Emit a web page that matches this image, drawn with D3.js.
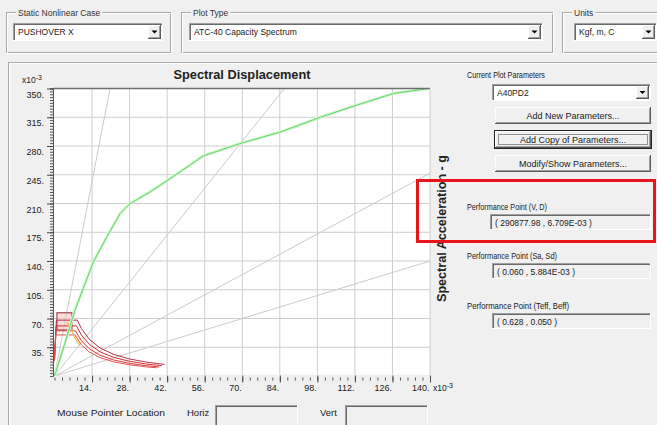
<!DOCTYPE html>
<html>
<head>
<meta charset="utf-8">
<script src="https://cdn.jsdelivr.net/npm/d3@7"></script>
<style>
  html, body { margin: 0; padding: 0; background: #f0f0f0; }
  svg { display: block; font-family: "Liberation Sans", Arial, sans-serif; }
</style>
</head>
<body>
<script>
// axis ticks, both in x10^-3
const sdTicks = [14, 28, 42, 56, 70, 84, 98, 112, 126, 140];
const saTicks = [35, 70, 105, 140, 175, 210, 245, 280, 315, 350];

// capacity curve (Sd, Sa) x10^-3
const capSd = [0, 3.7, 7.6, 14.5, 19.6, 24.5, 28.2, 35.6, 44.3, 55.5, 69.2, 84.2, 99.1, 112.9, 126.4, 139.5];
const capSa = [0, 38, 80, 139, 170, 198, 210, 224, 243, 268, 283, 297, 315, 330, 344, 350];

// demand spectra, 5 / 10 / 15 / 20 % damping
const dem05Sd = [0, 0.7, 8.5, 10, 13, 17, 22, 28, 34, 41];
const dem05Sa = [24, 68, 68, 58, 44.6, 34.1, 26.4, 20.7, 17.1, 14.1];
const dem10Sd = [0, 0.6, 8.2, 10, 13, 17, 22, 28, 34, 40];
const dem10Sa = [22, 61, 61, 50, 38.5, 29.4, 22.7, 17.9, 14.7, 12.5];
const dem15Sd = [0, 0.6, 7.8, 10, 13, 17, 22, 28, 34, 39];
const dem15Sa = [20, 55, 55, 43, 33.1, 25.3, 19.5, 15.4, 12.6, 11];
const dem20Sd = [0, 0.5, 7.6, 10, 13, 17, 22, 28, 34, 38];
const dem20Sa = [18, 50, 50, 38, 29.2, 22.4, 17.3, 13.6, 11.2, 10];

// single demand spectrum (variable damping)
const singleSd = [4.6, 5.9, 7.5, 9.5];
const singleSa = [66, 60, 47, 37];

// constant period lines, end point on the plot edge
const periodT = [0.5, 1.0, 1.5, 2.0];
const periodEndSd = [20.7, 85.7, 140, 140];
const periodEndSa = [350, 350, 247, 140];

// box around the performance point
const boxSd = [0.9, 6.5];
const boxSa = [56, 77];

// right panel
const paramButtons = ['Add New Parameters...', 'Add Copy of Parameters...', 'Modify/Show Parameters...'];
const perfLabels = ['Performance Point (V, D)', 'Performance Point (Sa, Sd)', 'Performance Point (Teff, Beff)'];
const perfValues = ['( 290877.98 , 6.709E-03 )', '( 0.060 , 5.884E-03 )', '( 0.628 , 0.050 )'];

const W = 657, H = 425;
const svg = d3.select('body').append('svg').attr('width', W).attr('height', H);
svg.append('rect').attr('width', W).attr('height', H).attr('fill', '#f0f0f0');

function txt(g, x, y, s, o = {}) {
  const t = g.append('text').attr('x', x).attr('y', y).text(s)
    .attr('font-size', o.size || 8.5).attr('fill', o.fill || '#1a1a1a');
  if (o.anchor) t.attr('text-anchor', o.anchor);
  if (o.bold) t.attr('font-weight', 'bold');
  if (o.len) t.attr('textLength', o.len).attr('lengthAdjust', 'spacingAndGlyphs');
  return t;
}

function hline(x1, x2, yy, c) {
  svg.append('line').attr('x1', x1).attr('x2', x2).attr('y1', yy).attr('y2', yy).attr('stroke', c);
}
function vline(xx, y1, y2, c) {
  svg.append('line').attr('x1', xx).attr('x2', xx).attr('y1', y1).attr('y2', y2).attr('stroke', c);
}

// etched group frame with caption
function groupBox(x, y, w, h, label) {
  svg.append('rect').attr('x', x + 0.5).attr('y', y + 0.5).attr('width', w).attr('height', h)
    .attr('fill', 'none').attr('stroke', '#a9a9a9');
  svg.append('rect').attr('x', x + 1.5).attr('y', y + 1.5).attr('width', w).attr('height', h)
    .attr('fill', 'none').attr('stroke', '#ffffff');
  const t = txt(svg, x + 12, y + 4, label, { size: 8.5, fill: '#333' });
  const tw = t.node().getComputedTextLength();
  svg.insert('rect', () => t.node()).attr('x', x + 10).attr('y', y - 4).attr('width', tw + 4).attr('height', 9)
    .attr('fill', '#f0f0f0');
}

function sunken(x, y, w, h, fill) {
  svg.append('rect').attr('x', x).attr('y', y).attr('width', w).attr('height', h).attr('fill', fill);
  hline(x, x + w, y + 0.5, '#a0a0a0');
  vline(x + 0.5, y, y + h, '#a0a0a0');
  hline(x + 1, x + w - 1, y + 1.5, '#696969');
  vline(x + 1.5, y + 1, y + h - 1, '#696969');
  hline(x, x + w, y + h - 0.5, '#ffffff');
  vline(x + w - 0.5, y, y + h, '#ffffff');
}

function raised(x, y, w, h) {
  svg.append('rect').attr('x', x).attr('y', y).attr('width', w).attr('height', h).attr('fill', '#f0f0f0');
  hline(x, x + w, y + 0.5, '#ffffff');
  vline(x + 0.5, y, y + h, '#ffffff');
  hline(x, x + w, y + h - 0.5, '#5a5a5a');
  vline(x + w - 0.5, y, y + h, '#5a5a5a');
  hline(x + 1, x + w - 1, y + h - 1.5, '#a0a0a0');
  vline(x + w - 1.5, y + 1, y + h - 1, '#a0a0a0');
}

function combo(x, y, w, h, label) {
  sunken(x, y, w, h, '#ffffff');
  const bx = x + w - 15;
  raised(bx, y + 2, 13, h - 4);
  const cx = bx + 6.5, cy = y + h / 2;
  svg.append('path').attr('d', `M${cx - 3},${cy - 1.5}L${cx + 3},${cy - 1.5}L${cx},${cy + 1.5}Z`).attr('fill', '#000');
  txt(svg, x + 5, y + h / 2 + 3, label, { size: 8.5 });
}

function button(x, y, w, h, label, focus) {
  raised(x, y, w, h);
  if (focus) {
    svg.append('rect').attr('x', x - 0.5).attr('y', y - 0.5).attr('width', w + 1).attr('height', h + 1)
      .attr('fill', 'none').attr('stroke', '#222');
    svg.append('rect').attr('x', x + 3.5).attr('y', y + 3.5).attr('width', w - 7).attr('height', h - 7)
      .attr('fill', 'none').attr('stroke', '#333').attr('stroke-dasharray', '1,1');
  }
  txt(svg, x + w / 2, y + h / 2 + 3.2, label, { size: 9, anchor: 'middle' });
}

// ---- top selectors
groupBox(6, 12, 164, 40, 'Static Nonlinear Case');
combo(13, 23, 150, 18, 'PUSHOVER X');
groupBox(181, 12, 371, 40, 'Plot Type');
combo(189, 23, 354, 18, 'ATC-40 Capacity Spectrum');
groupBox(562, 12, 100, 40, 'Units');
combo(574, 23, 83, 18, 'Kgf, m, C');

// ---- plot panel frame
hline(8, W, 62.5, '#a9a9a9');
hline(9, W, 63.5, '#ffffff');
vline(8.5, 62, H, '#a9a9a9');
vline(9.5, 63, H, '#ffffff');

// ---- chart
const x = d3.scaleLinear().domain([0, 140]).range([54.5, 430]);
const y = d3.scaleLinear().domain([0, 350]).range([376, 88.5]);

svg.append('rect').attr('x', 54).attr('y', y(350)).attr('width', x(140) - 54).attr('height', 374.5 - y(350))
  .attr('fill', '#ffffff');

svg.append('clipPath').attr('id', 'plotclip').append('rect')
  .attr('x', 54).attr('y', y(350)).attr('width', x(140) - 54).attr('height', 376 - y(350));

const grid = svg.append('g').attr('stroke', '#cdcdcd').attr('stroke-width', 1);
grid.selectAll('line.v').data(sdTicks).join('line')
  .attr('x1', d => x(d)).attr('x2', d => x(d)).attr('y1', y(350)).attr('y2', 374.5);
grid.selectAll('line.h').data(saTicks.slice(0, -1)).join('line').attr('class', 'h')
  .attr('x1', 54).attr('x2', x(140)).attr('y1', d => y(d)).attr('y2', d => y(d));

const plot = svg.append('g').attr('clip-path', 'url(#plotclip)');
const line = d3.line().x(d => x(d[0])).y(d => y(d[1]));

// constant period lines
plot.selectAll('path.period').data(periodT).join('path').attr('class', 'period')
  .attr('d', (d, i) => line([[0, 0], [periodEndSd[i], periodEndSa[i]]]))
  .attr('fill', 'none').attr('stroke', '#cacaca').attr('stroke-width', 1);

// performance point box
plot.append('rect')
  .attr('x', x(boxSd[0])).attr('y', y(boxSa[1]))
  .attr('width', x(boxSd[1]) - x(boxSd[0])).attr('height', y(boxSa[0]) - y(boxSa[1]))
  .attr('fill', '#f6c4c4').attr('fill-opacity', 0.6).attr('stroke', '#a4484a').attr('stroke-width', 1.2);

// demand spectra
const demands = [
  { sd: dem05Sd, sa: dem05Sa, c: '#b2304a' },
  { sd: dem10Sd, sa: dem10Sa, c: '#d42a2a' },
  { sd: dem15Sd, sa: dem15Sa, c: '#e23a3a' },
  { sd: dem20Sd, sa: dem20Sa, c: '#e85050' }
];
demands.forEach(dm => {
  plot.append('path').attr('d', line(dm.sd.map((v, i) => [v, dm.sa[i]])))
    .attr('fill', 'none').attr('stroke', dm.c).attr('stroke-width', 1);
});
plot.append('path').attr('d', line(singleSd.map((v, i) => [v, singleSa[i]])))
  .attr('fill', 'none').attr('stroke', '#e8c23a').attr('stroke-width', 1.2);

// capacity curve with a soft halo
const capPts = capSd.map((v, i) => [v, capSa[i]]);
plot.append('path').attr('d', line(capPts)).attr('fill', 'none')
  .attr('stroke', '#d2f5d2').attr('stroke-width', 3);
plot.append('path').attr('d', line(capPts)).attr('fill', 'none')
  .attr('stroke', '#5fd65f').attr('stroke-width', 1);

// top border
svg.append('line').attr('x1', 53).attr('x2', x(140)).attr('y1', y(350)).attr('y2', y(350))
  .attr('stroke', '#6e6e6e').attr('stroke-width', 1.5);

// y axis: minor ruler then labelled majors
const yMinor = svg.append('g').attr('transform', 'translate(53,0)')
  .call(d3.axisLeft(y).tickValues(d3.range(0, 350.01, 3.5)).tickSize(3).tickFormat(''));
yMinor.select('.domain').attr('stroke', '#555');
yMinor.selectAll('.tick line').attr('stroke', '#555');

const yMajor = svg.append('g').attr('transform', 'translate(53,0)')
  .call(d3.axisLeft(y).tickValues(saTicks).tickSize(6).tickPadding(3).tickFormat(d => d + '.'));
yMajor.select('.domain').remove();
yMajor.selectAll('.tick line').attr('stroke', '#444');
yMajor.selectAll('.tick text').attr('dy', '0.95em').attr('font-size', 9)
  .attr('fill', '#222').attr('font-family', '"Liberation Sans", Arial, sans-serif');

// x axis: short minor ticks and labelled majors
const xMinor = svg.append('g').attr('transform', 'translate(0,377.5)')
  .call(d3.axisBottom(x).tickValues(d3.range(0, 140.01, 2.8)).tickSize(3).tickFormat(''));
xMinor.select('.domain').remove();
xMinor.selectAll('.tick line').attr('stroke', '#555');

const xMajor = svg.append('g').attr('transform', 'translate(0,375.5)')
  .call(d3.axisBottom(x).tickValues(sdTicks).tickSize(7).tickFormat(d => d + '.'));
xMajor.select('.domain').remove();
xMajor.selectAll('.tick line').attr('stroke', '#444');
xMajor.selectAll('.tick text').attr('x', -1).attr('y', 15.5).attr('dy', 0)
  .attr('text-anchor', 'end').attr('font-size', 9).attr('fill', '#222')
  .attr('font-family', '"Liberation Sans", Arial, sans-serif');

// scale multipliers
function mult(xx, yy) {
  const t = txt(svg, xx, yy, 'x10', { size: 8.5, fill: '#222' });
  t.append('tspan').attr('dy', -3.5).attr('font-size', 7).text('-3');
}
mult(22, 83);
mult(433, 391);

// titles
txt(svg, 242, 79, 'Spectral Displacement', { size: 12, bold: true, anchor: 'middle', len: 137, fill: '#222' });
svg.append('g').attr('transform', 'translate(446,228.5) rotate(-90)')
  .call(g => txt(g, 0, 0, 'Spectral Acceleration - g', { size: 12, bold: true, anchor: 'middle', len: 147, fill: '#222' }));

// ---- right panel
txt(svg, 467, 78, 'Current Plot Parameters', { size: 9, len: 78 });
combo(492, 84, 159, 17, 'A40PD2');
const btnY = [107, 131, 155];
paramButtons.forEach((b, i) => button(495, btnY[i], 156, 17, b, i === 1));

const perfY = [207, 256, 306];
const fieldX = [490, 492, 492];
perfLabels.forEach((lab, i) => {
  txt(svg, 467, perfY[i] + 3, lab, { size: 9, len: [80, 90, 102][i] });
  sunken(fieldX[i], perfY[i] + 7, 651 - fieldX[i], 16, '#f0f0f0');
  txt(svg, fieldX[i] + 5, perfY[i] + 18.5, perfValues[i], { size: 8.5 });
});

// highlight frame
svg.append('rect').attr('x', 417.5).attr('y', 180.5).attr('width', 237).attr('height', 61)
  .attr('fill', 'none').attr('stroke', '#e8141c').attr('stroke-width', 3);

// ---- mouse pointer location
txt(svg, 57, 416, 'Mouse Pointer Location', { size: 9.5, len: 108 });
txt(svg, 187, 416, 'Horiz', { size: 9.5 });
sunken(215, 405, 83, 24, '#f0f0f0');
txt(svg, 320, 416, 'Vert', { size: 9.5 });
sunken(345, 405, 83, 24, '#f0f0f0');
</script>
</body>
</html>
